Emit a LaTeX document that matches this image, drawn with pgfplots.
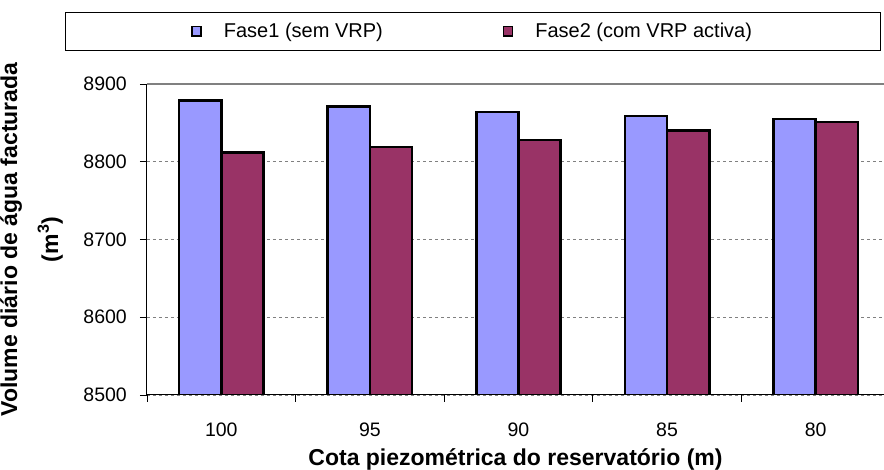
\documentclass[border=0pt]{standalone}
\usepackage{pgfplots}
\pgfplotsset{compat=1.18}
\usepackage{fontspec}
\setmainfont{Liberation Sans}
\definecolor{faseA}{HTML}{9999FF}
\definecolor{faseB}{HTML}{993366}
\begin{document}
\begin{tikzpicture}
\path[use as bounding box] (0pt,0pt) rectangle (884pt,470pt);
\begin{axis}[
  at={(147pt,75pt)}, anchor=south west,
  scale only axis, width=737pt, height=311pt,
  ymin=8500, ymax=8900, xmin=-0.5, xmax=4.46,
  axis x line=bottom, axis y line=left,
  axis line style={-, black, line width=1pt},
  ybar=0pt, bar width=0.284,
  xtick={0,1,2,3,4},
  xticklabels={100,95,90,85,80},
  xtick style={draw=none},
  extra x ticks={-0.5,0.5,1.5,2.5,3.5},
  extra x tick labels={},
  extra x tick style={xtick style={draw=black, line width=0.8pt}},
  ytick={8500,8600,8700,8800},
  extra y ticks={8900},
  extra y tick style={major grid style={solid, gray, line width=1.5pt}},
  ymajorgrids,
  major grid style={dashed, gray, line width=0.8pt},
  tick align=outside, major tick length=7pt,
  ytick style={black, line width=0.8pt},
  /pgf/number format/assume math mode=true,
  /pgf/number format/set thousands separator={},
  ticklabel style={font=\fontsize{19.5}{23}\selectfont, inner sep=0pt},
  yticklabel style={xshift=-13pt},
  xticklabel style={yshift=-21pt},
  xlabel={Cota piezométrica do reservatório (m)},
  xlabel style={at={([yshift=-71pt]rel axis cs:0.5,0)}, anchor=base, font=\bfseries\fontsize{23}{27}\selectfont, inner sep=0pt},
  ylabel={Volume diário de água facturada\\[13pt](m\textsuperscript{3})},
  ylabel style={at={([xshift=-84pt]rel axis cs:0,0.5)}, anchor=south, align=center, font=\bfseries\fontsize{23}{28}\selectfont, inner sep=0pt},
  legend style={at={(0,1)}, anchor=north west, xshift=-82pt, yshift=72pt,
    draw=black, line width=0.8pt, font=\fontsize{20}{24}\selectfont,
    inner xsep=126pt, inner ysep=9pt,
    /tikz/every odd column/.append style={column sep=20pt},
    /tikz/every even column/.append style={column sep=118pt}},
  legend columns=2,
  legend cell align=left,
  legend image code/.code={\draw[#1, line width=1.5pt] (0pt,-4.5pt) rectangle (9pt,5pt);},
]
\addplot[fill=faseA, draw=black, line width=2.5pt] coordinates {(0,8879) (1,8871) (2,8864) (3,8859) (4,8855)};
\addplot[fill=faseB, draw=black, line width=2.5pt] coordinates {(0,8812) (1,8819) (2,8828) (3,8840) (4,8851)};
\legend{Fase1 (sem VRP), Fase2 (com VRP activa)}
\end{axis}
\end{tikzpicture}
\end{document}
